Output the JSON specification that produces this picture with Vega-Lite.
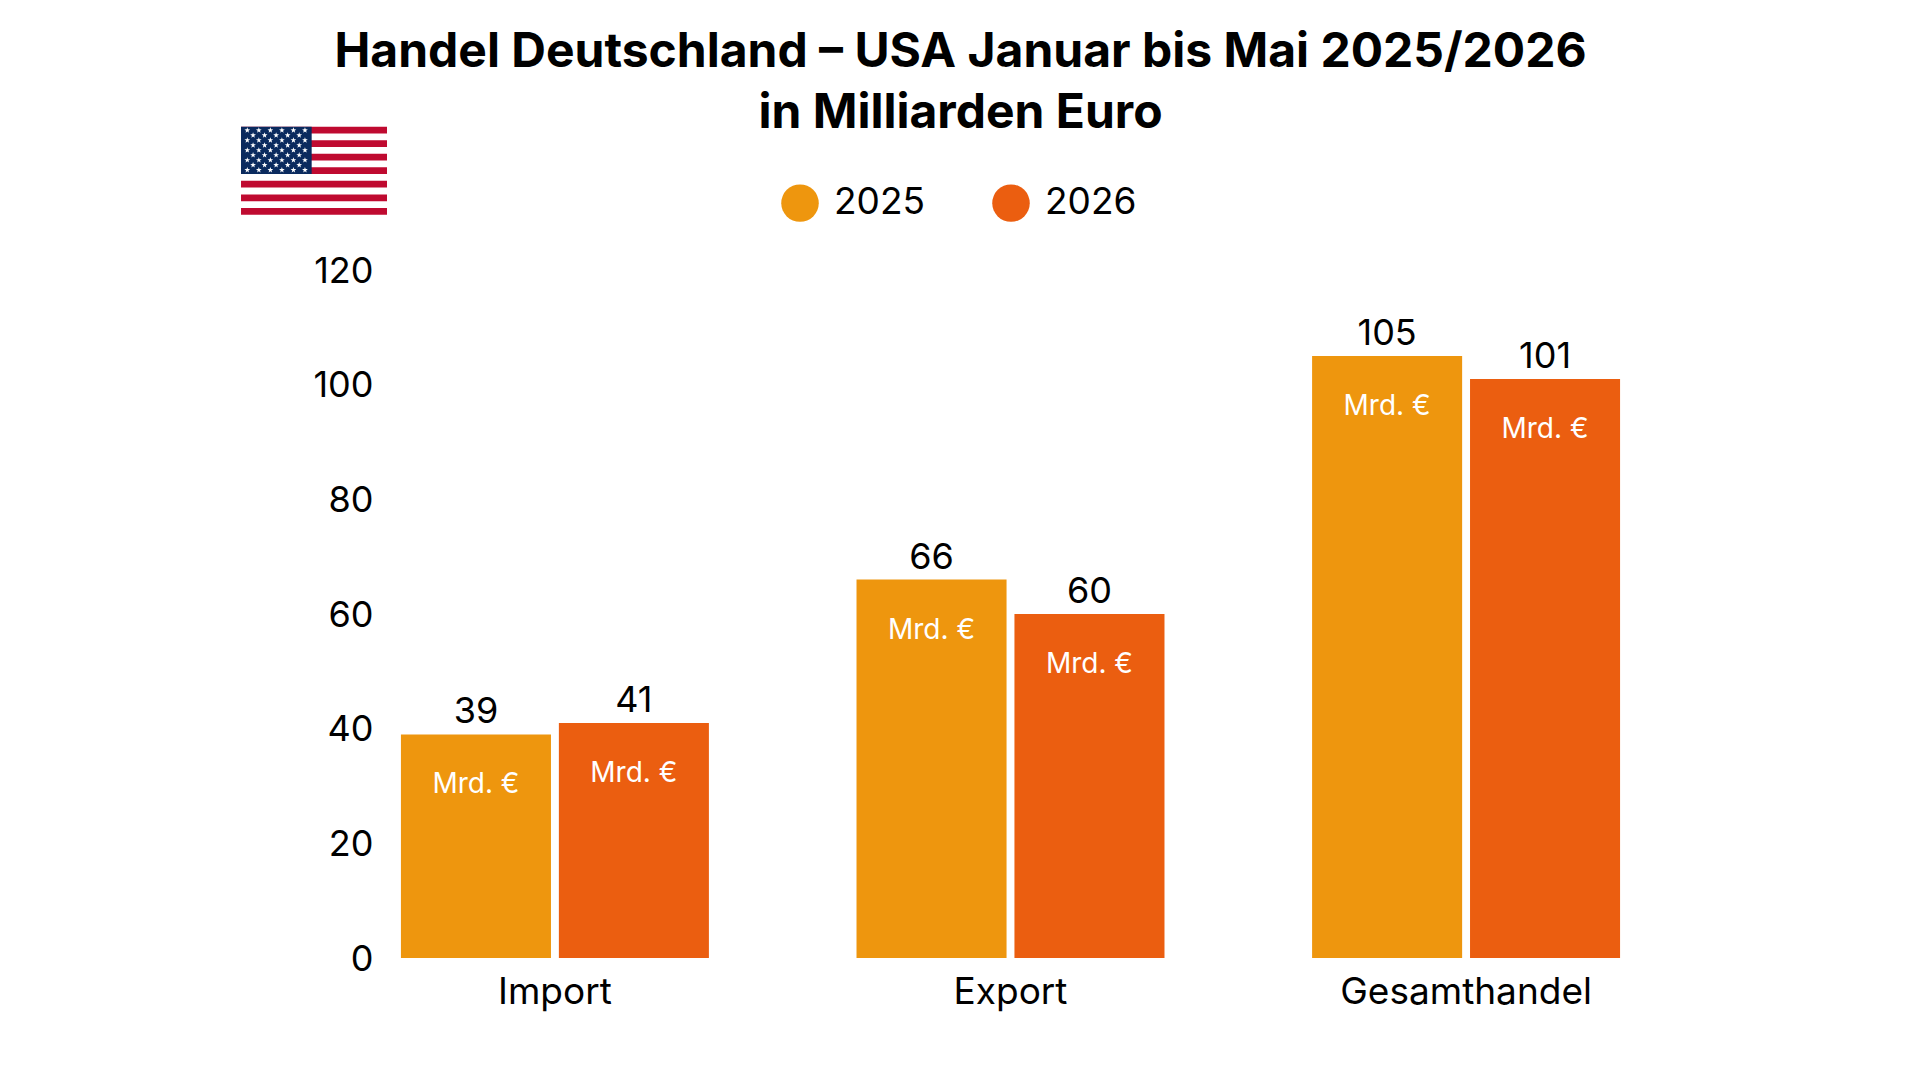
{
  "$schema": "https://vega.github.io/schema/vega-lite/v6.json",
  "width": 1241,
  "height": 688,
  "autosize": {"type": "none"},
  "padding": {"left": 390, "top": 270, "right": 289, "bottom": 122},
  "background": "white",
  "title": {
    "text": ["Handel Deutschland – USA Januar bis Mai 2025/2026", "in Milliarden Euro"],
    "anchor": "middle",
    "frame": "group",
    "dx": -50,
    "offset": -11,
    "font": "Inter",
    "fontSize": 48,
    "fontWeight": 700,
    "lineHeight": 61,
    "color": "#000000"
  },
  "datasets": {
    "trade": [
      {"kategorie": "Import", "jahr": "2025", "wert": 39},
      {"kategorie": "Import", "jahr": "2026", "wert": 41},
      {"kategorie": "Export", "jahr": "2025", "wert": 66},
      {"kategorie": "Export", "jahr": "2026", "wert": 60},
      {"kategorie": "Gesamthandel", "jahr": "2025", "wert": 105},
      {"kategorie": "Gesamthandel", "jahr": "2026", "wert": 101}
    ],
    "flag": [
      {"part": "stripe", "x0": 0, "x1": 100, "y0": 0, "y1": 1},
      {"part": "stripe", "x0": 0, "x1": 100, "y0": 2, "y1": 3},
      {"part": "stripe", "x0": 0, "x1": 100, "y0": 4, "y1": 5},
      {"part": "stripe", "x0": 0, "x1": 100, "y0": 6, "y1": 7},
      {"part": "stripe", "x0": 0, "x1": 100, "y0": 8, "y1": 9},
      {"part": "stripe", "x0": 0, "x1": 100, "y0": 10, "y1": 11},
      {"part": "stripe", "x0": 0, "x1": 100, "y0": 12, "y1": 13},
      {"part": "canton", "x0": 0, "x1": 48.4, "y0": 0, "y1": 7}
    ],
    "stars": [
      {"sx": 4.3, "sy": 0.54}, {"sx": 12.2, "sy": 0.54}, {"sx": 20.1, "sy": 0.54}, {"sx": 28, "sy": 0.54}, {"sx": 35.9, "sy": 0.54}, {"sx": 43.8, "sy": 0.54},
      {"sx": 8.25, "sy": 1.27}, {"sx": 16.15, "sy": 1.27}, {"sx": 24.05, "sy": 1.27}, {"sx": 31.95, "sy": 1.27}, {"sx": 39.85, "sy": 1.27},
      {"sx": 4.3, "sy": 2}, {"sx": 12.2, "sy": 2}, {"sx": 20.1, "sy": 2}, {"sx": 28, "sy": 2}, {"sx": 35.9, "sy": 2}, {"sx": 43.8, "sy": 2},
      {"sx": 8.25, "sy": 2.74}, {"sx": 16.15, "sy": 2.74}, {"sx": 24.05, "sy": 2.74}, {"sx": 31.95, "sy": 2.74}, {"sx": 39.85, "sy": 2.74},
      {"sx": 4.3, "sy": 3.47}, {"sx": 12.2, "sy": 3.47}, {"sx": 20.1, "sy": 3.47}, {"sx": 28, "sy": 3.47}, {"sx": 35.9, "sy": 3.47}, {"sx": 43.8, "sy": 3.47},
      {"sx": 8.25, "sy": 4.2}, {"sx": 16.15, "sy": 4.2}, {"sx": 24.05, "sy": 4.2}, {"sx": 31.95, "sy": 4.2}, {"sx": 39.85, "sy": 4.2},
      {"sx": 4.3, "sy": 4.94}, {"sx": 12.2, "sy": 4.94}, {"sx": 20.1, "sy": 4.94}, {"sx": 28, "sy": 4.94}, {"sx": 35.9, "sy": 4.94}, {"sx": 43.8, "sy": 4.94},
      {"sx": 8.25, "sy": 5.67}, {"sx": 16.15, "sy": 5.67}, {"sx": 24.05, "sy": 5.67}, {"sx": 31.95, "sy": 5.67}, {"sx": 39.85, "sy": 5.67},
      {"sx": 4.3, "sy": 6.4}, {"sx": 12.2, "sy": 6.4}, {"sx": 20.1, "sy": 6.4}, {"sx": 28, "sy": 6.4}, {"sx": 35.9, "sy": 6.4}, {"sx": 43.8, "sy": 6.4}
    ]
  },
  "layer": [
    {
      "data": {"name": "trade"},
      "encoding": {
        "x": {
          "field": "kategorie",
          "type": "nominal",
          "sort": ["Import", "Export", "Gesamthandel"],
          "scale": {"paddingInner": 0.324, "paddingOuter": 0.024},
          "axis": {"title": null, "labelAngle": 0, "ticks": false, "domain": false, "grid": false, "labelPadding": 16, "labelLimit": 500, "labelFontSize": 37, "labelFont": "Inter", "labelFontWeight": 400, "labelColor": "#000000"}
        },
        "xOffset": {"field": "jahr", "type": "nominal", "scale": {"paddingInner": 0.05, "paddingOuter": 0}},
        "y": {
          "field": "wert",
          "type": "quantitative",
          "scale": {"domain": [0, 120], "nice": false},
          "axis": {"title": null, "values": [0, 20, 40, 60, 80, 100, 120], "ticks": false, "domain": false, "grid": false, "labelPadding": 17, "labelOffset": 1, "labelFontSize": 36, "labelFont": "Inter", "labelFontWeight": 400, "labelColor": "#000000"}
        }
      },
      "layer": [
        {
          "mark": {"type": "bar"},
          "encoding": {
            "color": {
              "field": "jahr",
              "type": "nominal",
              "scale": {"domain": ["2025", "2026"], "range": ["#EE960E", "#EB5E10"]},
              "legend": {
                "title": null,
                "orient": "none",
                "direction": "horizontal",
                "legendX": 391,
                "legendY": -86,
                "symbolType": "circle",
                "symbolSize": 1406,
                "symbolStrokeWidth": 0,
                "labelFont": "Inter",
                "labelFontSize": 37,
                "labelColor": "#000000",
                "labelOffset": 15,
                "columnPadding": 67
              }
            }
          }
        },
        {
          "mark": {"type": "text", "baseline": "middle", "dy": -22, "font": "Inter", "fontSize": 36, "color": "#000000"},
          "encoding": {"text": {"field": "wert", "type": "quantitative"}}
        },
        {
          "mark": {"type": "text", "baseline": "middle", "dy": 51, "font": "Inter", "fontSize": 28, "color": "#FFFFFF", "text": "Mrd. €"},
          "encoding": {}
        }
      ]
    },
    {
      "layer": [
        {
          "data": {"name": "flag"},
          "transform": [{"filter": "datum.part == 'stripe'"}],
          "mark": {"type": "rect", "color": "#BF0A30", "clip": false},
          "encoding": {
            "x": {"field": "x0", "type": "quantitative", "scale": {"domain": [102.05, 952.1], "nice": false, "zero": false}, "axis": null},
            "x2": {"field": "x1"},
            "y": {"field": "y0", "type": "quantitative", "scale": {"domain": [122.8, 21.17], "nice": false, "zero": false}, "axis": null},
            "y2": {"field": "y1"}
          }
        },
        {
          "data": {"name": "flag"},
          "transform": [{"filter": "datum.part == 'canton'"}],
          "mark": {"type": "rect", "color": "#0A2A5E", "clip": false},
          "encoding": {
            "x": {"field": "x0", "type": "quantitative", "axis": null},
            "x2": {"field": "x1"},
            "y": {"field": "y0", "type": "quantitative", "axis": null},
            "y2": {"field": "y1"}
          }
        },
        {
          "data": {"name": "stars"},
          "mark": {"type": "point", "shape": "M0,-1L0.235,-0.324L0.951,-0.309L0.38,0.124L0.588,0.809L0,0.4L-0.588,0.809L-0.38,0.124L-0.951,-0.309L-0.235,-0.324Z", "filled": true, "color": "#FFFFFF", "opacity": 1, "size": 36},
          "encoding": {
            "x": {"field": "sx", "type": "quantitative", "axis": null},
            "y": {"field": "sy", "type": "quantitative", "axis": null}
          }
        }
      ]
    }
  ],
  "resolve": {"scale": {"x": "independent", "y": "independent"}},
  "config": {"view": {"stroke": null}}
}
